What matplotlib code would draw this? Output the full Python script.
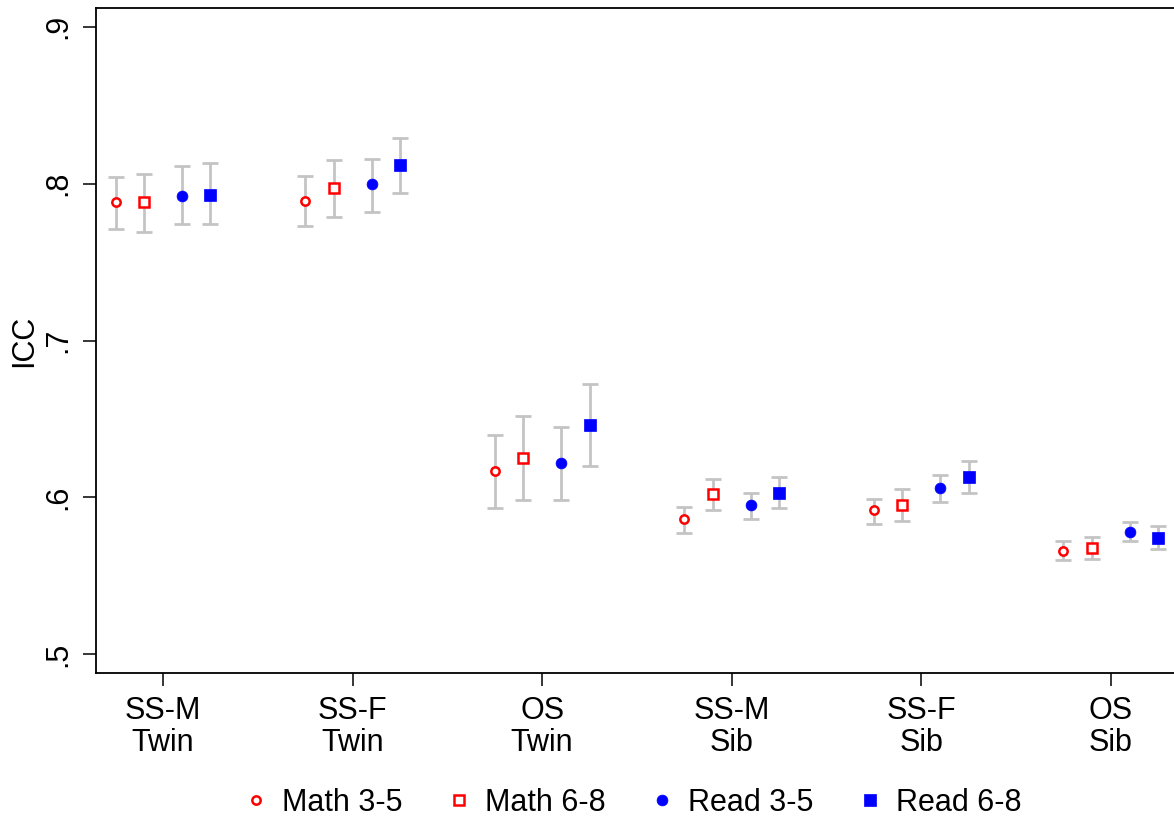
import numpy as np
import matplotlib
matplotlib.use("Agg")
import matplotlib.pyplot as plt
from matplotlib.lines import Line2D

plt.rcParams['font.family'] = ['Liberation Sans', 'DejaVu Sans']

# ICC estimates with 95% CI per pair type
groups = ['SS-M\nTwin', 'SS-F\nTwin', 'OS\nTwin', 'SS-M\nSib', 'SS-F\nSib', 'OS\nSib']
series = ['Math 3-5', 'Math 6-8', 'Read 3-5', 'Read 6-8']

math35 = [0.788, 0.789, 0.617, 0.586, 0.592, 0.566]
math35_lo = [0.771, 0.773, 0.593, 0.577, 0.583, 0.560]
math35_hi = [0.804, 0.805, 0.640, 0.594, 0.599, 0.572]

math68 = [0.788, 0.797, 0.625, 0.602, 0.595, 0.568]
math68_lo = [0.769, 0.779, 0.598, 0.592, 0.585, 0.561]
math68_hi = [0.806, 0.815, 0.652, 0.612, 0.605, 0.575]

read35 = [0.792, 0.800, 0.622, 0.595, 0.606, 0.578]
read35_lo = [0.774, 0.782, 0.598, 0.586, 0.597, 0.572]
read35_hi = [0.811, 0.816, 0.645, 0.603, 0.614, 0.584]

read68 = [0.793, 0.812, 0.646, 0.603, 0.613, 0.574]
read68_lo = [0.774, 0.794, 0.620, 0.593, 0.603, 0.567]
read68_hi = [0.813, 0.829, 0.672, 0.613, 0.623, 0.582]

offsets = [-0.25, -0.1, 0.1, 0.25]
styles = [
    dict(marker='o', mfc='white', mec='red', ms=6.0, mew=1.8),
    dict(marker='s', mfc='white', mec='red', ms=7.0, mew=1.8),
    dict(marker='o', mfc='blue', mec='blue', ms=7.8, mew=0.5),
    dict(marker='s', mfc='blue', mec='blue', ms=8.8, mew=0.5),
]
data = [(math35, math35_lo, math35_hi), (math68, math68_lo, math68_hi),
        (read35, read35_lo, read35_hi), (read68, read68_lo, read68_hi)]

fig = plt.figure(figsize=(11.74, 8.24), dpi=100)
ax = fig.add_axes([96 / 1174, 151 / 824, 1081 / 1174, 665 / 824])

x = np.arange(1, len(groups) + 1)
handles = []
for (est, lo, hi), off, st, name in zip(data, offsets, styles, series):
    est = np.array(est)
    err = [est - np.array(lo), np.array(hi) - est]
    ax.errorbar(x + off, est, yerr=err, fmt='none', ecolor='#c4c4c4',
                elinewidth=2.0, capsize=5.6, capthick=2.0, zorder=2)
    ax.plot(x + off, est, linestyle='none', zorder=3, **st)
    handles.append(Line2D([], [], linestyle='none', label=name, **st))

ax.set_xlim(0.646, 6.35)
ax.set_ylim(0.488, 0.912)
ax.set_xticks(x)
ax.set_xticklabels(groups, fontsize=22, linespacing=1.1)
ax.set_yticks([0.5, 0.6, 0.7, 0.8, 0.9])
ax.set_yticklabels(['.5', '.6', '.7', '.8', '.9'], fontsize=22,
                   rotation=90, va='center')
ax.set_ylabel('ICC', fontsize=22, labelpad=3)

ax.tick_params(axis='both', length=9.5, width=1.1, pad=7)
for side in ax.spines.values():
    side.set_linewidth(1.3)

fig.legend(handles=handles, loc='center', bbox_to_anchor=(631 / 1174, 21 / 824),
           ncol=4, frameon=False, fontsize=22, handlelength=1.0,
           handletextpad=0.35, columnspacing=1.35)

fig.savefig('out.png', dpi=100)
